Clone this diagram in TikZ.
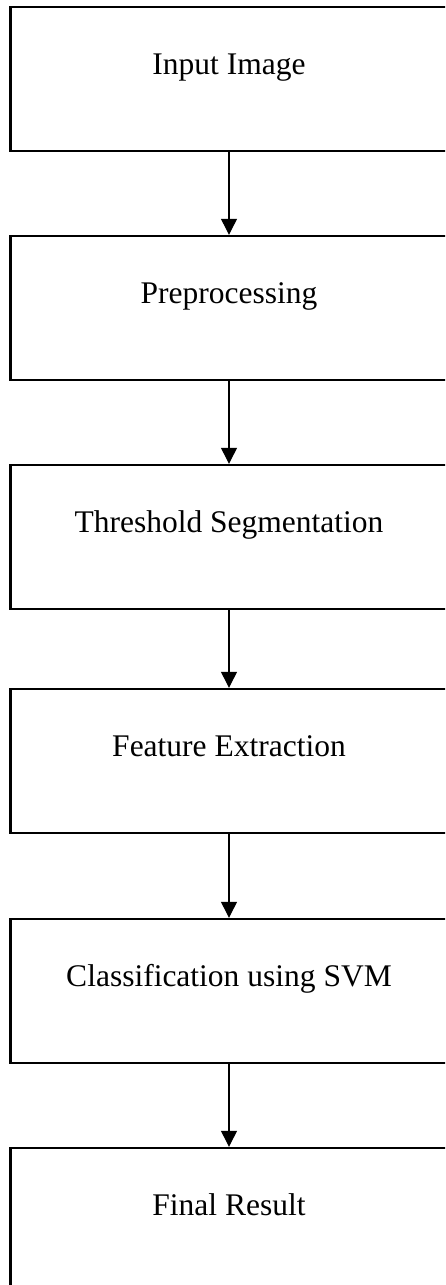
\documentclass[tikz,border=0pt]{standalone}
\usepackage{fontspec}
\setmainfont{Liberation Serif}
\usetikzlibrary{arrows.meta}
\tikzset{
  stage/.style={draw=black, line width=1.2pt, rectangle, inner sep=0pt,
    minimum width=218.5pt, text height=33.5pt, text depth=38.5pt,
    font=\fontsize{15.75}{18}\selectfont},
  flow/.style={-{Triangle[length=8pt,width=8pt]}, line width=0.6pt},
}

\begin{document}
\begin{tikzpicture}[x=0.5pt,y=-0.5pt]
\useasboundingbox (0,0) rectangle (445,1285);
\clip (0,0) rectangle (445,1285);

% ---- processing stages ----
\node[stage] (input)  at (229,79)   {Input Image};
\node[stage] (prep)   at (229,308)  {Preprocessing};
\node[stage] (thresh) at (229,537)  {Threshold Segmentation};
\node[stage] (feat)   at (229,761)  {Feature Extraction};
\node[stage] (svm)    at (229,991)  {Classification using SVM};
\node[stage] (result) at (229,1220) {Final Result};

\draw[flow] (input)--(prep);
\draw[flow] (prep)--(thresh);
\draw[flow] (thresh)--(feat);
\draw[flow] (feat)--(svm);
\draw[flow] (svm)--(result);
\end{tikzpicture}
\end{document}
